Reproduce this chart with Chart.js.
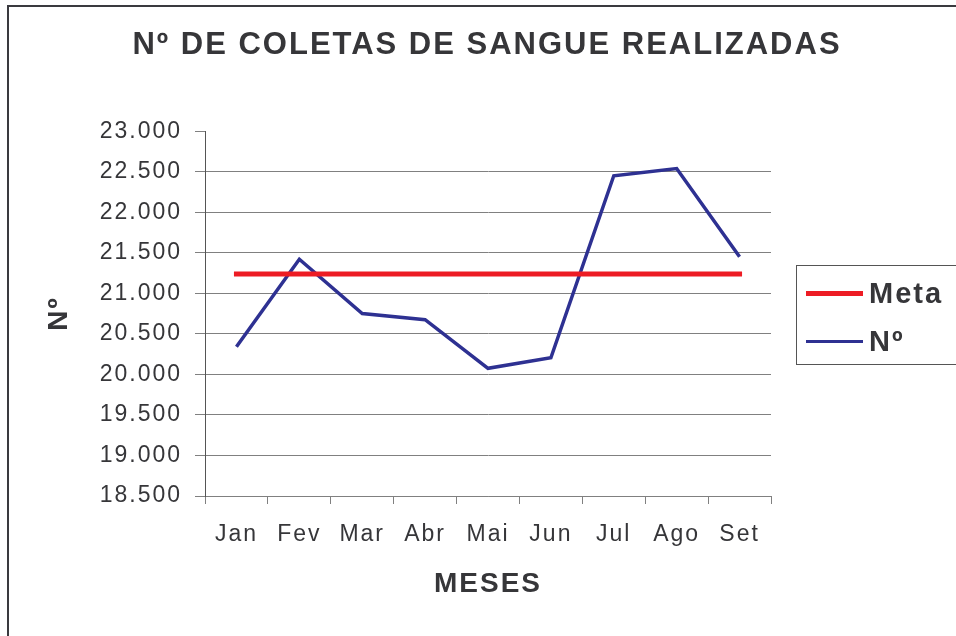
<!DOCTYPE html>
<html>
<head>
<meta charset="utf-8">
<script src="https://cdn.jsdelivr.net/npm/chart.js@4/dist/chart.umd.min.js"></script>
<style>
html, body { margin: 0; padding: 0; background: #fff; }
#wrap { position: relative; width: 956px; height: 636px; overflow: hidden; }
#frame { position: absolute; left: 7px; top: 5px; width: 1000px; height: 700px;
  border-left: 2px solid #3a3a3f; border-top: 2px solid #3a3a3f; pointer-events: none; }
</style>
</head>
<body>
<div id="wrap">
  <canvas id="chart" width="956" height="636"></canvas>
  <div id="frame"></div>
</div>
<script>
const months = ['Jan', 'Fev', 'Mar', 'Abr', 'Mai', 'Jun', 'Jul', 'Ago', 'Set'];
const metaValues = [21240, 21240, 21240, 21240, 21240, 21240, 21240, 21240, 21240];
const coletas = [20340, 21420, 20750, 20675, 20075, 20205, 22450, 22540, 21450];
const yMin = 18500;
const yMax = 23000;
const yStep = 500;

const textColor = '#363639';
const gridColor = '#808080';
const font = 'Arial, "Liberation Sans", Helvetica, sans-serif';

const thousands = (v) => String(v).replace(/\B(?=(\d{3})+(?!\d))/g, '.');

// the original text is a bit spread out, so widen the letters everywhere
const spacing = {
  id: 'spacing',
  beforeLayout(chart) { chart.ctx.letterSpacing = '2px'; },
  beforeDraw(chart) { chart.ctx.letterSpacing = '2px'; }
};

// legend drawn by hand: box sticking out on the right, bold labels
const legendBox = {
  id: 'legendBox',
  afterDraw(chart) {
    const { ctx } = chart;
    ctx.save();
    ctx.strokeStyle = '#555';
    ctx.lineWidth = 1;
    ctx.strokeRect(796.5, 265.5, 220, 99);
    const rows = [293.5, 341.5];
    chart.data.datasets.forEach((ds, i) => {
      const y = rows[i];
      ctx.strokeStyle = ds.borderColor;
      ctx.lineWidth = i === 0 ? 5 : 3;
      ctx.beginPath();
      ctx.moveTo(806, y);
      ctx.lineTo(863, y);
      ctx.stroke();
      ctx.fillStyle = textColor;
      ctx.font = 'bold 29px ' + font;
      ctx.textBaseline = 'middle';
      ctx.textAlign = 'left';
      ctx.fillText(ds.label, 869, y + 1);
    });
    ctx.restore();
  }
};

new Chart(document.getElementById('chart'), {
  type: 'line',
  data: {
    labels: months,
    datasets: [
      { label: 'Meta', data: metaValues, borderColor: '#ed1c24', borderWidth: 5,
        borderCapStyle: 'square', pointRadius: 0, tension: 0 },
      { label: 'Nº', data: coletas, borderColor: '#2e3192', borderWidth: 3.5,
        pointRadius: 0, tension: 0 }
    ]
  },
  options: {
    responsive: false,
    animation: false,
    devicePixelRatio: 1,
    layout: { padding: { left: 18, right: 0, top: 0, bottom: 0 } },
    plugins: {
      legend: { display: false },
      tooltip: { enabled: false },
      title: {
        display: true,
        text: 'Nº DE COLETAS DE SANGUE REALIZADAS',
        color: textColor,
        font: { family: font, size: 31, weight: 'bold' },
        padding: { top: 27, bottom: 67 }
      }
    },
    scales: {
      x: {
        offset: true,
        grid: { offset: true, drawOnChartArea: false, tickLength: 8, color: gridColor },
        border: { color: gridColor },
        ticks: { color: textColor, font: { family: font, size: 23 }, padding: 17, maxRotation: 0 },
        title: { display: true, text: 'MESES', color: textColor,
          font: { family: font, size: 28, weight: 'bold' }, padding: { top: 0, bottom: 35 } },
        afterFit: (s) => { s.height = 140; }
      },
      y: {
        min: yMin,
        max: yMax,
        grid: {
          color: (c) => (c.tick && c.tick.value === yMax ? 'rgba(0,0,0,0)' : gridColor),
          tickColor: gridColor,
          tickLength: 10
        },
        border: { color: '#555' },
        ticks: { stepSize: yStep, color: textColor, font: { family: font, size: 23 }, padding: 13,
          callback: (v) => thousands(v) },
        title: { display: true, text: 'Nº', color: textColor,
          font: { family: font, size: 28, weight: 'bold' }, padding: { top: 24, bottom: 0 } },
        afterFit: (s) => { s.width = 187; }
      },
      // empty right-hand axis keeps room for the legend while the title stays centred on the page
      side: {
        type: 'linear',
        position: 'right',
        grid: { display: false },
        border: { display: false },
        ticks: { display: false },
        afterFit: (s) => { s.width = 185; }
      }
    }
  },
  plugins: [spacing, legendBox]
});
</script>
</body>
</html>
